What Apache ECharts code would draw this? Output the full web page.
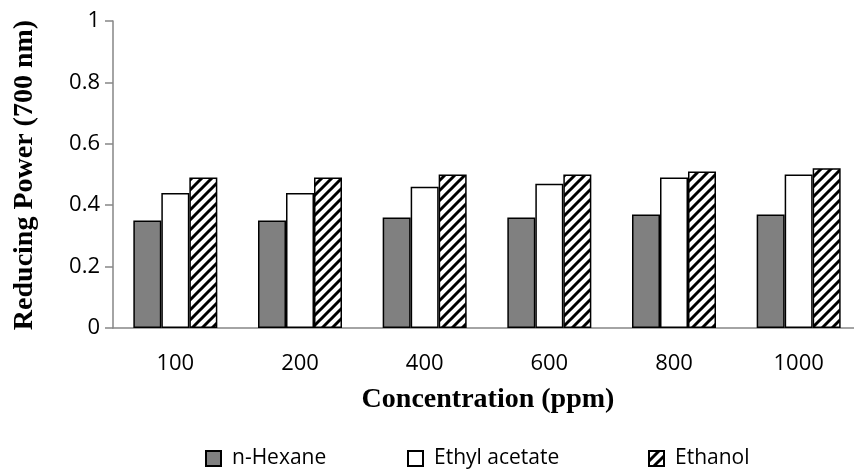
<!DOCTYPE html>
<html><head><meta charset="utf-8">
<script src="https://cdn.jsdelivr.net/npm/echarts@6/dist/echarts.min.js"></script>
<style>html,body{margin:0;padding:0;background:#fff}#c{width:854px;height:470px}</style>
</head><body><div id="c"></div>
<script>
const categories = ['100', '200', '400', '600', '800', '1000'];
const hexane = [0.35, 0.35, 0.36, 0.36, 0.37, 0.37];
const ethylAcetate = [0.44, 0.44, 0.46, 0.47, 0.49, 0.50];
const ethanol = [0.49, 0.49, 0.50, 0.50, 0.51, 0.52];
const yTicks = [0, 0.2, 0.4, 0.6, 0.8, 1];
const xTitle = 'Concentration (ppm)';
const yTitle = 'Reducing Power (700 nm)';

function hatch() {
  const s = 10, c = document.createElement('canvas');
  c.width = s; c.height = s;
  const g = c.getContext('2d');
  g.fillStyle = '#fff'; g.fillRect(0, 0, s, s);
  g.strokeStyle = '#000'; g.lineWidth = 3;
  g.beginPath();
  g.moveTo(-2, s + 2); g.lineTo(s + 2, -2);
  g.moveTo(-2, 2); g.lineTo(2, -2);
  g.moveTo(s - 2, s + 2); g.lineTo(s + 2, s - 2);
  g.stroke();
  return c;
}
const pat = { image: hatch(), repeat: 'repeat' };

const chart = echarts.init(document.getElementById('c'));
const axisColor = '#868686';
const titleFont = { fontFamily: 'Liberation Serif', fontWeight: 'bold', fontSize: 28, fill: '#000', align: 'center', verticalAlign: 'middle' };
const legendText = { fontFamily: 'Open Sans', fontSize: 21, color: '#000', padding: [0, 0, 0, 6] };
function lg(name, left) {
  return { data: [{ name: name, icon: 'rect' }], left: left, top: 448, itemWidth: 15, itemHeight: 15, itemGap: 0,
    textStyle: legendText, selectedMode: false, padding: 0 };
}
chart.setOption({
  animation: false,
  grid: { left: 113, top: 21, width: 748, height: 307, containLabel: false, outerBoundsMode: 'none' },
  legend: [lg('n-Hexane', 205), lg('Ethyl acetate', 407), lg('Ethanol', 648)],
  graphic: [
    { type: 'text', x: 488, y: 400, style: Object.assign({ text: xTitle }, titleFont) },
    { type: 'text', x: 25, y: 175, rotation: Math.PI / 2, style: Object.assign({ text: yTitle }, titleFont) }
  ],
  xAxis: {
    type: 'category', data: categories,
    axisLine: { lineStyle: { color: axisColor, width: 1.5 } },
    axisTick: { length: 12, lineStyle: { color: axisColor, width: 1.5 } },
    axisLabel: { margin: 25, fontFamily: 'Open Sans', fontSize: 22, color: '#000' }
  },
  yAxis: {
    type: 'value', min: 0, max: 1, interval: 0.2,
    splitLine: { show: false },
    axisLine: { show: true, lineStyle: { color: axisColor, width: 1.5 } },
    axisTick: { show: true, length: 8, lineStyle: { color: axisColor, width: 1.5 } },
    axisLabel: { margin: 13, fontFamily: 'Open Sans', fontSize: 22, color: '#000',
      formatter: v => { const t = yTicks.find(x => Math.abs(x - v) < 1e-9); return t === undefined ? '' : String(t); } }
  },
  series: [
    { name: 'n-Hexane', type: 'bar', data: hexane, barWidth: 28, barGap: '0%',
      itemStyle: { color: '#808080', borderColor: '#000', borderWidth: 1.5 } },
    { name: 'Ethyl acetate', type: 'bar', data: ethylAcetate, barWidth: 28, barGap: '0%',
      itemStyle: { color: '#fff', borderColor: '#000', borderWidth: 1.5 } },
    { name: 'Ethanol', type: 'bar', data: ethanol, barWidth: 28, barGap: '0%',
      itemStyle: { color: pat, borderColor: '#000', borderWidth: 1.5 } }
  ]
});
</script></body></html>
